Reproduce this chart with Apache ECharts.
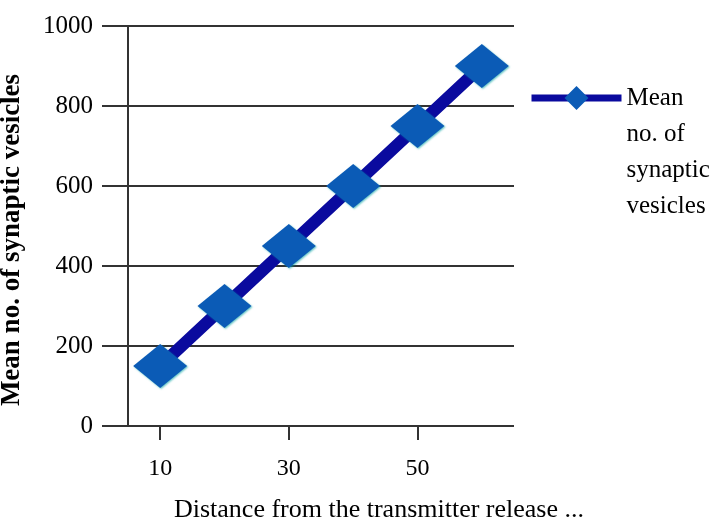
<!DOCTYPE html>
<html><head><meta charset="utf-8">
<script src="https://cdn.jsdelivr.net/npm/echarts@6/dist/echarts.min.js"></script>
<style>html,body{margin:0;padding:0;background:#fff}#c{width:720px;height:526px}</style>
</head><body><div id="c"></div>
<script>
const categories = ['10','20','30','40','50','60'];
const values = [150, 300, 450, 600, 750, 900];
const seriesName = 'Mean\nno. of\nsynaptic\nvesicles';
const yTitle = 'Mean no. of synaptic vesicles';
const xTitle = 'Distance from the transmitter release ...';

const font = 'Liberation Serif';
const chart = echarts.init(document.getElementById('c'));
chart.setOption({
  backgroundColor: '#fff',
  animation: false,
  grid: {left: 128, right: 206, top: 26, bottom: 100, containLabel: false, outerBoundsMode: 'none'},
  legend: {
    left: 528, top: -28, orient: 'vertical', padding: 0,
    itemWidth: 90, itemHeight: 30, itemGap: 0,
    lineStyle: {width: 7},
    formatter: n => '\n\n\n' + n,
    textStyle: {fontFamily: font, fontSize: 25, color: '#000', lineHeight: 36},
    data: [{name: seriesName}]
  },
  xAxis: {
    type: 'category', data: categories, boundaryGap: true,
    name: xTitle, nameLocation: 'middle', nameGap: 71,
    nameTextStyle: {fontFamily: font, fontSize: 26, color: '#000', padding: [0,0,0,116]},
    axisLine: {show: false},
    axisTick: {show: true, alignWithLabel: true, length: 14, lineStyle: {color: '#333', width: 2}},
    axisLabel: {interval: 1, fontFamily: font, fontSize: 24, color: '#000', margin: 31}
  },
  yAxis: {
    type: 'value', min: 0, max: 1000, interval: 200,
    name: yTitle, nameLocation: 'middle', nameGap: 102, nameRotate: 90,
    nameTextStyle: {fontFamily: font, fontSize: 27, fontWeight: 'bold', color: '#000', padding: [0,28,0,0]},
    axisLine: {show: true, lineStyle: {color: '#333', width: 2}},
    axisTick: {show: true, length: 26, lineStyle: {color: '#333', width: 2}},
    axisLabel: {fontFamily: font, fontSize: 25, color: '#000', margin: 35, formatter: v => String(v)},
    splitLine: {show: true, lineStyle: {color: '#333', width: 2}}
  },
  series: [{
    name: seriesName, type: 'line', data: values,
    showAllSymbol: true,
    symbol: 'diamond', symbolSize: [54, 44],
    lineStyle: {color: '#0a0a9e', width: 12},
    itemStyle: {color: '#0b5bb6', shadowColor: 'rgba(0,160,160,0.6)', shadowBlur: 2, shadowOffsetX: 1, shadowOffsetY: 1},
    z: 5
  }]
});
</script></body></html>
